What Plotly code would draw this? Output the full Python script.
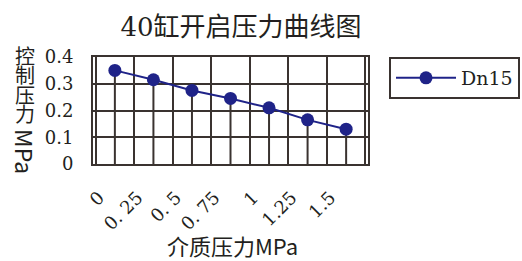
import plotly.graph_objects as go

# ---- data ----
categories = ["0", "0. 25", "0. 5", "0. 75", "1", "1.25", "1.5"]
dn15 = [0.35, 0.315, 0.275, 0.245, 0.21, 0.165, 0.13]
y_ticks = [0, 0.1, 0.2, 0.3, 0.4]
y_tick_labels = ["0", "0.1", "0.2", "0.3", "0.4"]
title_text = "40缸开启压力曲线图"
x_title = "介质压力MPa"
y_title_cjk = "控制压力"
y_title_unit = "MPa"
series_name = "Dn15"

navy = "#1f2388"
grid = "#3a3330"
txt = "#231f20"
serif = "DejaVu Serif, Noto Sans CJK SC"
sans = "Noto Sans CJK SC"

W, H = 522, 261
L, R, T, B = 93, 154, 57, 97
pw, ph = W - L - R, H - T - B

def px_x(p):
    return (p - L) / pw

def px_y(p):
    return (H - B - p) / ph

fig = go.Figure()

# drop lines from each point down to the axis
dx, dy = [], []
for c, v in zip(categories, dn15):
    dx += [c, c, None]
    dy += [0, v, None]
fig.add_trace(go.Scatter(x=dx, y=dy, mode="lines", showlegend=False,
                         line=dict(color=grid, width=2), hoverinfo="skip"))

fig.add_trace(go.Scatter(x=categories, y=dn15, mode="lines+markers", name=series_name,
                         line=dict(color=navy, width=2),
                         marker=dict(color=navy, size=13)))

fig.update_layout(
    width=W, height=H,
    margin=dict(l=L, r=R, t=T, b=B, autoexpand=False),
    paper_bgcolor="white", plot_bgcolor="white",
    title=dict(text=title_text, x=241 / W, y=1 - 27 / H, xanchor="center", yanchor="middle",
               font=dict(family=serif, size=26, color=txt)),
    xaxis=dict(type="category", categoryorder="array", categoryarray=categories,
               tickson="boundaries", showgrid=True, gridcolor=grid, gridwidth=2,
               showline=True, mirror=True, linecolor=grid, linewidth=2,
               ticks="", tickangle=-45, ticklabelstandoff=14, ticklabelshift=-16,
               automargin=False,
               tickfont=dict(family=serif, size=18, color=txt), zeroline=False),
    yaxis=dict(range=[0, 0.4], tickvals=y_ticks, ticktext=y_tick_labels,
               showgrid=True, gridcolor=grid, gridwidth=2,
               showline=True, mirror=True, linecolor=grid, linewidth=2,
               ticks="", ticklabelstandoff=14, zeroline=False, automargin=False,
               tickfont=dict(family=serif, size=18, color=txt)),
    legend=dict(x=px_x(389), y=1, xanchor="left", yanchor="top",
                bordercolor=grid, borderwidth=2, bgcolor="white", itemwidth=60,
                font=dict(family=serif, size=19, color=txt)),
    showlegend=True,
)

ann = []
for i, ch in enumerate(y_title_cjk):
    ann.append(dict(text=ch, xref="paper", yref="paper", x=px_x(25), y=px_y(55 + i * 19.5),
                    showarrow=False, xanchor="center", yanchor="middle",
                    font=dict(family=sans, size=20, color=txt)))
ann.append(dict(text=y_title_unit, xref="paper", yref="paper", x=px_x(25), y=px_y(151),
                showarrow=False, xanchor="center", yanchor="middle", textangle=90,
                font=dict(family=sans, size=23, color=txt)))
ann.append(dict(text=x_title, xref="paper", yref="paper", x=px_x(232), y=px_y(245),
                showarrow=False, xanchor="center", yanchor="middle",
                font=dict(family=sans, size=22, color=txt)))
fig.update_layout(annotations=ann)

fig.write_html("out.html", config={"displayModeBar": False},
               post_script="document.body.style.margin='0';")
